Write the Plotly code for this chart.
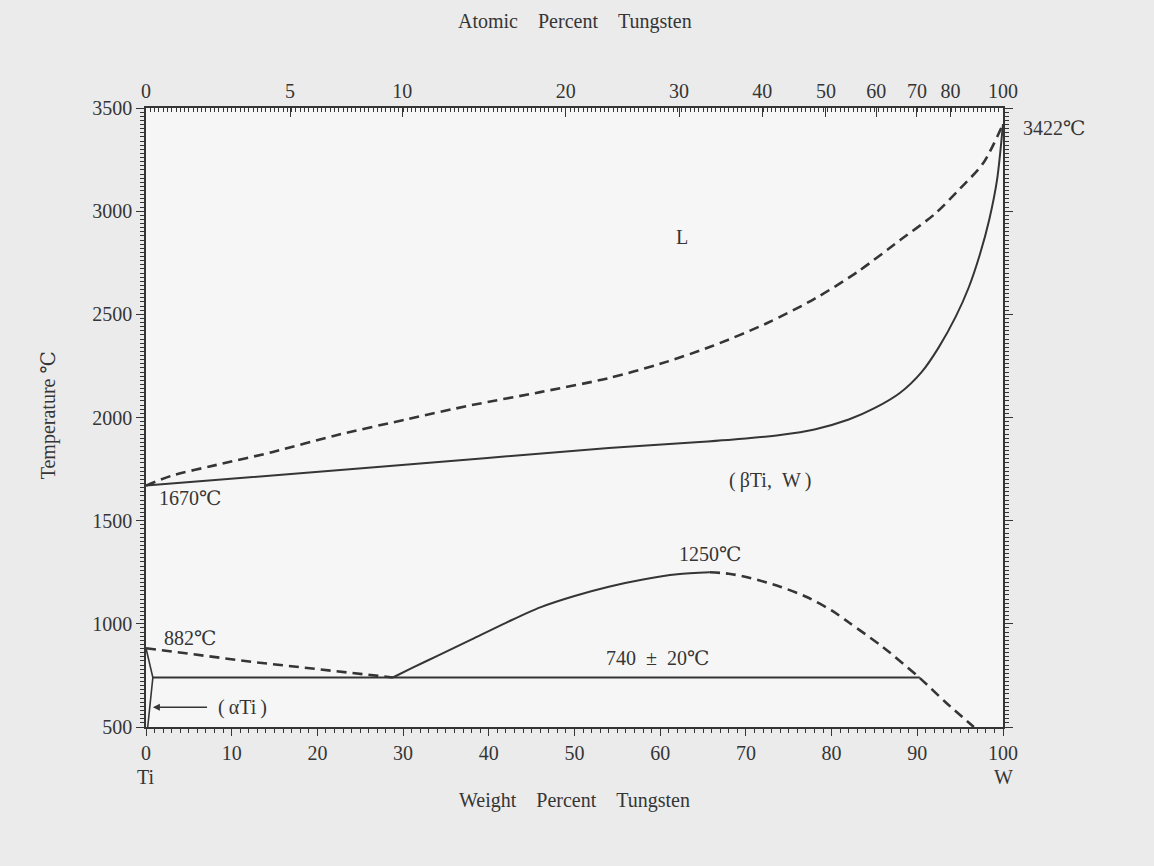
import plotly.graph_objects as go

# ---------------- data ----------------
# Liquidus (dashed), weight % W vs temperature °C
liq_w = [0, 3, 8, 14.8, 22, 30.5, 38, 46, 54, 60, 66, 72.5, 78, 83, 88, 92, 95, 97.7, 100]
liq_t = [1670, 1718, 1768, 1833, 1912, 1992, 2060, 2123, 2191, 2260, 2345, 2458, 2575, 2705, 2860, 2985, 3110, 3233, 3422]

# Solidus (solid)
sol_w = [0, 27, 54, 64.6, 70, 74, 78, 82, 85, 88, 90.5, 92.5, 94.5, 96, 97.3, 98.4, 99.3, 100]
sol_t = [1670, 1760, 1852, 1881, 1898, 1915, 1942, 1990, 2045, 2120, 2220, 2340, 2490, 2630, 2790, 2960, 3150, 3422]

# Miscibility gap, solid part
gap_solid_w = [28.8, 31, 34, 38, 42, 46, 50, 54, 58, 62, 65.8]
gap_solid_t = [740, 785, 845, 925, 1005, 1080, 1135, 1180, 1215, 1240, 1250]

# Miscibility gap, dashed part
gap_dash_w = [65.8, 68, 70.5, 74, 77.1, 80, 82.1, 86, 90.3, 93.3, 96.6]
gap_dash_t = [1250, 1243, 1222, 1180, 1130, 1065, 1004, 887, 737, 620, 500]

# alpha/beta transus from Ti side (dashed)
ab_w = [0, 12.5, 28.8]
ab_t = [882, 815, 740]

# monotectoid horizontal
mono_w = [0.8, 90.3]
mono_t = [740, 740]

# alpha-Ti boundary near pure Ti
alpha_w = [0, 0.8, 0.5, 0.2]
alpha_t = [882, 740, 620, 500]

# Axis ticks
wt_ticks = [0, 10, 20, 30, 40, 50, 60, 70, 80, 90, 100]
t_ticks = [500, 1000, 1500, 2000, 2500, 3000, 3500]
at_ticks = [0, 5, 10, 20, 30, 40, 50, 60, 70, 80, 100]

M_W, M_TI = 183.84, 47.867


def at_to_wt(a):
    if a <= 0:
        return 0.0
    if a >= 100:
        return 100.0
    return 100 * a * M_W / (a * M_W + (100 - a) * M_TI)


FONT = "Liberation Serif, DejaVu Serif, Noto Sans CJK JP, serif"
INK = "#353535"

fig = go.Figure()

solid = dict(color=INK, width=2)
dashed = dict(color=INK, width=2.6, dash="10px,6px")

fig.add_trace(go.Scatter(x=liq_w, y=liq_t, mode="lines", line=dict(shape="spline", smoothing=0.8, **dashed)))
fig.add_trace(go.Scatter(x=sol_w, y=sol_t, mode="lines", line=dict(shape="spline", smoothing=0.8, **solid)))
fig.add_trace(go.Scatter(x=gap_solid_w, y=gap_solid_t, mode="lines", line=dict(shape="spline", smoothing=0.8, **solid)))
fig.add_trace(go.Scatter(x=gap_dash_w, y=gap_dash_t, mode="lines", line=dict(shape="spline", smoothing=0.8, **dashed)))
fig.add_trace(go.Scatter(x=ab_w, y=ab_t, mode="lines", line=dashed))
fig.add_trace(go.Scatter(x=mono_w, y=mono_t, mode="lines", line=solid))
fig.add_trace(go.Scatter(x=alpha_w, y=alpha_t, mode="lines", line=dict(color=INK, width=1.6)))
# invisible trace on the top axis so it is drawn
fig.add_trace(go.Scatter(x=[0, 100], y=[500, 500], xaxis="x2", mode="lines",
                         line=dict(width=0), opacity=0, hoverinfo="skip"))

tickfont = dict(family=FONT, size=20, color=INK)

fig.update_layout(
    width=1154, height=866,
    showlegend=False,
    paper_bgcolor="#ebebeb",
    plot_bgcolor="#f6f6f6",
    margin=dict(l=146, r=151, t=108, b=139),
    font=dict(family=FONT, color=INK),
    xaxis=dict(
        range=[0, 100], tickmode="array", tickvals=wt_ticks,
        ticktext=[str(v) for v in wt_ticks],
        ticks="outside", ticklen=7, tickwidth=1.2, tickcolor=INK,
        minor=dict(dtick=1, ticks="outside", ticklen=4, tickcolor=INK, tickwidth=1),
        showline=True, linecolor=INK, linewidth=1.6, mirror=False,
        showgrid=False, zeroline=False, tickfont=tickfont,
    ),
    xaxis2=dict(
        range=[0, 100], overlaying="x", side="top", anchor="y",
        tickmode="array", tickvals=[at_to_wt(a) for a in at_ticks],
        ticktext=[str(a) for a in at_ticks],
        ticks="inside", ticklen=9, tickwidth=1.2, tickcolor=INK,
        minor=dict(tickmode="linear", tick0=0, dtick=0.5, ticks="inside", ticklen=4,
                   tickcolor=INK, tickwidth=1),
        showline=True, linecolor=INK, linewidth=1.6,
        showgrid=False, zeroline=False, tickfont=tickfont,
    ),
    yaxis=dict(
        range=[500, 3500], tickmode="array", tickvals=t_ticks,
        ticks="outside", ticklen=8, tickwidth=1.2, tickcolor=INK,
        minor=dict(dtick=20, ticks="outside", ticklen=4, tickcolor=INK, tickwidth=1),
        showline=True, linecolor=INK, linewidth=1.6, mirror="ticks",
        showgrid=False, zeroline=False, tickfont=tickfont,
    ),
)

lab = dict(family=FONT, size=20, color=INK)
sp = "\u2002"
th = "\u2009"

anns = [
    dict(x=100, y=3403, text="3422℃", xanchor="left", xshift=18),
    dict(x=62.5, y=2875, text="L"),
    dict(x=72.8, y=1697, text="(" + th + "βTi," + sp + "W" + th + ")"),
    dict(x=65.8, y=1338, text="1250℃"),
    dict(x=59.7, y=834, text="740" + sp + "±" + sp + "20℃"),
    dict(x=5.1, y=931, text="882℃"),
    dict(x=5.1, y=1610, text="1670℃"),
    dict(x=11.3, y=596, text="(" + th + "αTi" + th + ")"),
]
for a in anns:
    fig.add_annotation(xref="x", yref="y", showarrow=False, font=lab, **a)

# Ti / W end-member labels under the bottom axis
fig.add_annotation(xref="paper", yref="paper", x=0.0, y=-0.081, text="Ti",
                   showarrow=False, xanchor="center", yanchor="middle", font=lab)
fig.add_annotation(xref="paper", yref="paper", x=1.0, y=-0.081, text="W",
                   showarrow=False, xanchor="center", yanchor="middle", font=lab)

# arrow pointing to the alpha-Ti field
fig.add_annotation(xref="x", yref="y", axref="x", ayref="y",
                   x=0.8, y=596, ax=7.3, ay=596, text="", showarrow=True,
                   arrowhead=2, arrowsize=1, arrowwidth=1.4, arrowcolor=INK)

# axis titles
title_font = dict(family=FONT, size=20, color=INK)
gap = "\u00a0" * 4
fig.add_annotation(xref="paper", yref="paper", x=0.5, y=-0.118, showarrow=False,
                   xanchor="center", yanchor="middle",
                   text="Weight" + gap + "Percent" + gap + "Tungsten", font=title_font)
fig.add_annotation(xref="paper", yref="paper", x=0.5, y=1.139, showarrow=False,
                   xanchor="center", yanchor="middle",
                   text="Atomic" + gap + "Percent" + gap + "Tungsten", font=title_font)
fig.add_annotation(xref="paper", yref="paper", x=-0.114, y=0.504, showarrow=False,
                   xanchor="center", yanchor="middle",
                   textangle=-90, text="Temperature ℃", font=title_font)

fig.write_html("out.html")
